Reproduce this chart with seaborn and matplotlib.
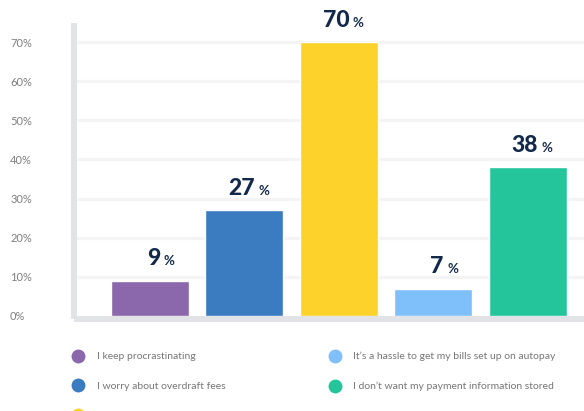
import matplotlib
matplotlib.use("Agg")
import matplotlib.pyplot as plt
import seaborn as sns
import pandas as pd
from matplotlib.lines import Line2D

categories = [
    "I keep procrastinating",
    "I worry about overdraft fees",
    "I want to control when my bills get paid",
    "It\u2019s a hassle to get my bills set up on autopay",
    "I don\u2019t want my payment information stored",
]
values = [9, 27, 70, 7, 38]
colors = ["#8b67ab", "#3b7bbf", "#fdd22b", "#7fbffa", "#25c59c"]
yticks = [0, 10, 20, 30, 40, 50, 60, 70]
ytick_labels = ["0%", "10%", "20%", "30%", "40%", "50%", "60%", "70%"]

sns.set_theme(style="white")
plt.rcParams["font.family"] = ["Lato", "DejaVu Sans"]

W, H = 584, 411
fig = plt.figure(figsize=(W / 100, H / 100), dpi=100)
ax = fig.add_axes([77 / W, 1 - 316 / H, (W - 77) / W, 290 / H])

df = pd.DataFrame({"cat": categories, "val": values})
sns.barplot(data=df, x="cat", y="val", hue="cat", palette=colors,
            width=0.826, legend=False, ax=ax, saturation=1, zorder=3)

ax.set_xlim(-0.773, 4.597)
ax.set_ylim(0, 74.1)
ax.set_xlabel("")
ax.set_ylabel("")
ax.set_xticks([])
ax.set_yticks(yticks)
ax.set_yticklabels(ytick_labels)
for y in yticks[1:]:
    ax.axhline(y, color="#f4f4f4", lw=2.3, zorder=1)

ax.tick_params(axis="y", length=0, pad=46, labelsize=8, labelcolor="#7f7f7f")

for s in ["top", "right"]:
    ax.spines[s].set_visible(False)
for s in ["left", "bottom"]:
    sp = ax.spines[s]
    sp.set_color("#e1e3e6")
    sp.set_linewidth(4.3)
    sp.set_position(("outward", 2.16))
    sp.set_capstyle("projecting")
    sp.set_zorder(4)

for i, v in enumerate(values):
    ax.annotate(str(v), xy=(i, v), xytext=(7.5, 11), textcoords="offset points",
                ha="right", va="baseline", fontsize=16.5, fontweight="black",
                color="#13294b")
    ax.annotate("%", xy=(i, v), xytext=(10, 11), textcoords="offset points",
                ha="left", va="baseline", fontsize=9.5, fontweight="bold",
                color="#13294b")

handles = [Line2D([], [], marker="o", ls="", markersize=10, color=c,
                  markeredgewidth=0) for c in colors]
fig.legend(handles, categories, ncol=2, loc="upper left",
           bbox_to_anchor=(73 / W, 1 - 352 / H), frameon=False,
           fontsize=7.5, labelcolor="#777777", handlelength=1.0,
           handletextpad=1.3, labelspacing=1.95, columnspacing=5.1,
           borderaxespad=0, borderpad=0)

fig.canvas.draw()
for tick in ax.yaxis.get_major_ticks():
    tick.label1.set_horizontalalignment("left")

fig.savefig("out.png", dpi=100)
